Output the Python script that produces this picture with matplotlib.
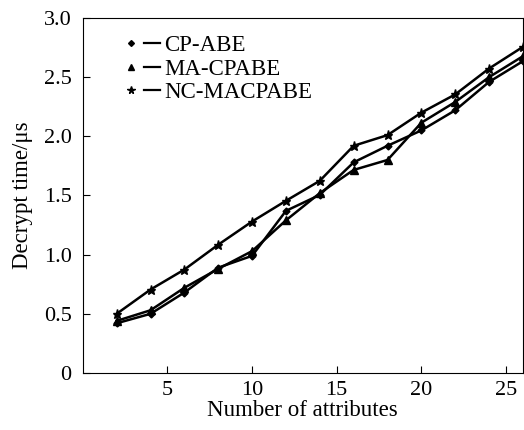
import matplotlib.pyplot as plt
from matplotlib.lines import Line2D
from matplotlib.legend_handler import HandlerTuple

# data
attrs = [2, 4, 6, 8, 10, 12, 14, 16, 18, 20, 22, 24, 26]
cp_abe = [0.42, 0.50, 0.68, 0.89, 0.99, 1.37, 1.505, 1.78, 1.92, 2.05, 2.22, 2.46, 2.635]
ma_cpabe = [0.44, 0.53, 0.72, 0.88, 1.03, 1.29, 1.52, 1.716, 1.80, 2.115, 2.29, 2.50, 2.677]
nc_macpabe = [0.50, 0.705, 0.874, 1.084, 1.28, 1.455, 1.624, 1.92, 2.01, 2.20, 2.354, 2.573, 2.756]
names = ['CP-ABE', 'MA-CPABE', 'NC-MACPABE']
marks = ['D', '^', '*']
msz = [3.5, 5.5, 6.5]

plt.rcParams['font.family'] = ['Liberation Serif', 'DejaVu Serif']

fig = plt.figure(figsize=(5.24, 4.30), dpi=100)
ax = fig.add_axes([0.158, 0.1326, 0.84, 0.8256])

handles = []
for ys, m, s in zip([cp_abe, ma_cpabe, nc_macpabe], marks, msz):
    ax.plot(attrs, ys, color='black', lw=1.8, marker=m, ms=s, clip_on=False)
    hm = Line2D([], [], color='black', marker=m, ms=s * 0.85, ls='none')
    hl = Line2D([], [], color='black', lw=1.6)
    handles.append((hm, hl))

ax.legend(handles, names, handler_map={tuple: HandlerTuple(ndivide=None, pad=0.25)},
          loc='upper left', bbox_to_anchor=(0.06, 0.99), frameon=False, fontsize=16.5,
          handlelength=1.6, handletextpad=0.2, labelspacing=0.1, borderaxespad=0.2)

ax.set_xlim(0, 26)
ax.set_ylim(0, 3.0)
ax.set_xticks([5, 10, 15, 20, 25])
ax.set_yticks([0, 0.5, 1.0, 1.5, 2.0, 2.5, 3.0])
ax.set_yticklabels(['0', '0.5', '1.0', '1.5', '2.0', '2.5', '3.0'])
ax.tick_params(direction='in', labelsize=16, length=5, top=False, right=False)
ax.tick_params(axis='y', pad=8)
ax.tick_params(axis='x', pad=6)
ax.set_xlabel('Number of attributes', fontsize=16.5, labelpad=0)
ax.set_ylabel('Decrypt time/μs', fontsize=16.5, labelpad=8)

fig.savefig('out.png', dpi=100)
